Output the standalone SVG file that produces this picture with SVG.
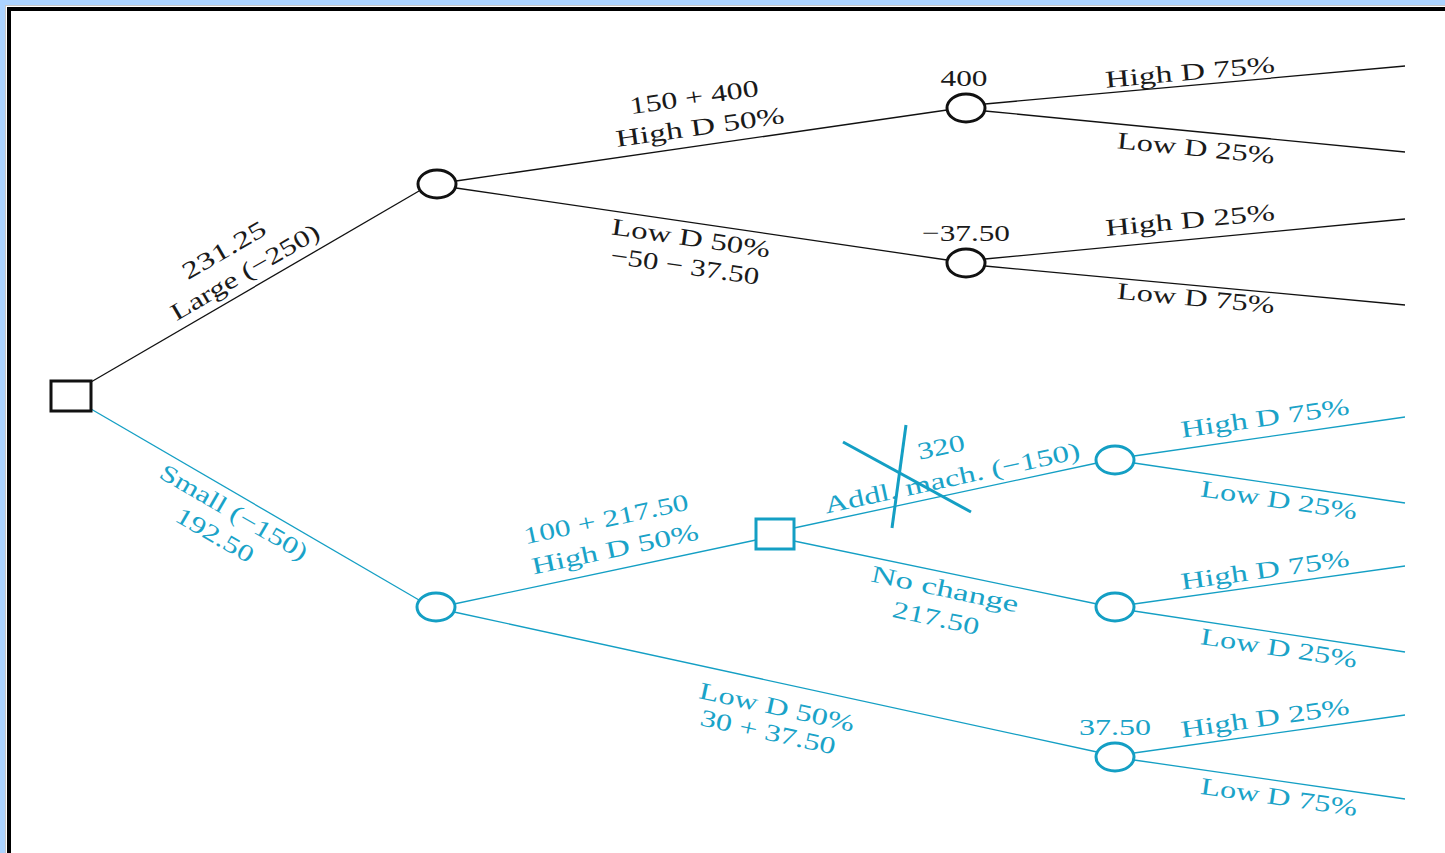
<svg xmlns="http://www.w3.org/2000/svg" width="1445" height="853" viewBox="0 0 1445 853">
<style>
.bg{fill:#acd3ff}
.k{stroke:#111;fill:none}
.t{stroke:#149fc4;fill:none}
.ln{stroke-width:1.3}
.nd{stroke-width:3;fill:#fff}
text{font-family:"Liberation Serif","Times New Roman",serif;font-size:24px;text-anchor:middle}
.kt{fill:#1a1a1a}
.tt{fill:#1aa3c8}
</style>
<rect class="bg" x="0" y="0" width="1445" height="853"/>
<rect x="5.5" y="5.5" width="1460" height="870" fill="#fff" stroke="#c8c8c8" stroke-width="1"/>
<rect x="9" y="9" width="1460" height="870" fill="none" stroke="#000" stroke-width="4"/>
<g id="connectors">
<g class="k ln">
<line x1="91" y1="382" x2="419" y2="191"/>
<line x1="456" y1="181" x2="947" y2="110"/>
<line x1="456" y1="188" x2="947" y2="260"/>
<line x1="985" y1="104" x2="1405" y2="66"/>
<line x1="985" y1="111" x2="1405" y2="152"/>
<line x1="985" y1="259" x2="1405" y2="219"/>
<line x1="985" y1="266" x2="1405" y2="305"/>
</g>
<g class="t ln">
<line x1="91" y1="409" x2="419" y2="600"/>
<line x1="454" y1="604" x2="756" y2="540"/>
<line x1="454" y1="612" x2="1097" y2="752"/>
<line x1="794" y1="528" x2="1097" y2="463"/>
<line x1="794" y1="541" x2="1097" y2="604"/>
<line x1="1134" y1="456" x2="1405" y2="417"/>
<line x1="1134" y1="463" x2="1405" y2="503"/>
<line x1="1134" y1="604" x2="1405" y2="566"/>
<line x1="1134" y1="611" x2="1405" y2="652"/>
<line x1="1134" y1="753" x2="1405" y2="715"/>
<line x1="1134" y1="760" x2="1405" y2="799"/>
</g>
</g>
<g id="root"><rect class="k nd" x="51" y="381" width="40" height="30"/></g>
<g id="nA"><ellipse class="k nd" cx="437" cy="184" rx="19" ry="14"/></g>
<g id="nB"><ellipse class="k nd" cx="966" cy="108" rx="19" ry="14"/>
<text class="kt" x="964" y="86" textLength="47" lengthAdjust="spacingAndGlyphs">400</text></g>
<g id="nC"><ellipse class="k nd" cx="966" cy="263" rx="19" ry="14"/>
<text class="kt" x="966" y="241" textLength="88" lengthAdjust="spacingAndGlyphs">−37.50</text></g>
<g id="nD"><ellipse class="t nd" cx="436" cy="607" rx="19" ry="14"/></g>
<g id="nE"><rect class="t nd" x="756" y="519" width="38" height="30"/></g>
<g id="nF"><ellipse class="t nd" cx="1115" cy="460" rx="19" ry="14"/></g>
<g id="nG"><ellipse class="t nd" cx="1115" cy="607" rx="19" ry="14"/></g>
<g id="nH"><ellipse class="t nd" cx="1115" cy="757" rx="19" ry="14"/>
<text class="tt" x="1115" y="735" textLength="72" lengthAdjust="spacingAndGlyphs">37.50</text></g>
<g id="labels-black" class="kt">
<text class="kt" transform="translate(224,250) rotate(-30.2)" y="8" textLength="93" lengthAdjust="spacingAndGlyphs">231.25</text>
<text class="kt" transform="translate(245,272) rotate(-30.2)" y="8" textLength="168" lengthAdjust="spacingAndGlyphs">Large (−250)</text>
<text class="kt" transform="translate(694,97) rotate(-8.2)" y="8" textLength="130" lengthAdjust="spacingAndGlyphs">150 + 400</text>
<text class="kt" transform="translate(700,127) rotate(-8.2)" y="8" textLength="170" lengthAdjust="spacingAndGlyphs">High D 50%</text>
<text class="kt" transform="translate(691,238) rotate(8.3)" y="8" textLength="160" lengthAdjust="spacingAndGlyphs">Low D 50%</text>
<text class="kt" transform="translate(685,266) rotate(8.3)" y="8" textLength="150" lengthAdjust="spacingAndGlyphs">−50 − 37.50</text>
<text class="kt" transform="translate(1190,72) rotate(-5.2)" y="8" textLength="170" lengthAdjust="spacingAndGlyphs">High D 75%</text>
<text class="kt" transform="translate(1196,148) rotate(5.6)" y="8" textLength="158" lengthAdjust="spacingAndGlyphs">Low D 25%</text>
<text class="kt" transform="translate(1190,220) rotate(-5.4)" y="8" textLength="170" lengthAdjust="spacingAndGlyphs">High D 25%</text>
<text class="kt" transform="translate(1196,298) rotate(5.3)" y="8" textLength="158" lengthAdjust="spacingAndGlyphs">Low D 75%</text>
</g>
<g id="labels-teal">
<text class="tt" transform="translate(234,512) rotate(30.2)" y="8" textLength="167" lengthAdjust="spacingAndGlyphs">Small (−150)</text>
<text class="tt" transform="translate(215,535) rotate(30.2)" y="8" textLength="86" lengthAdjust="spacingAndGlyphs">192.50</text>
<text class="tt" transform="translate(606,519) rotate(-12)" y="8" textLength="168" lengthAdjust="spacingAndGlyphs">100 + 217.50</text>
<text class="tt" transform="translate(615,549) rotate(-12)" y="8" textLength="170" lengthAdjust="spacingAndGlyphs">High D 50%</text>
<text class="tt" transform="translate(941,447) rotate(-12)" y="8" textLength="48" lengthAdjust="spacingAndGlyphs">320</text>
<text class="tt" transform="translate(952,478) rotate(-12.3)" y="8" textLength="261" lengthAdjust="spacingAndGlyphs">Addl. mach. (−150)</text>
<text class="tt" transform="translate(945,589) rotate(12)" y="8" textLength="150" lengthAdjust="spacingAndGlyphs">No change</text>
<text class="tt" transform="translate(936,618) rotate(12)" y="8" textLength="88" lengthAdjust="spacingAndGlyphs">217.50</text>
<text class="tt" transform="translate(777,707) rotate(12.3)" y="8" textLength="158" lengthAdjust="spacingAndGlyphs">Low D 50%</text>
<text class="tt" transform="translate(768,732) rotate(12.3)" y="8" textLength="138" lengthAdjust="spacingAndGlyphs">30 + 37.50</text>
<text class="tt" transform="translate(1265,418) rotate(-8)" y="8" textLength="170" lengthAdjust="spacingAndGlyphs">High D 75%</text>
<text class="tt" transform="translate(1279,500) rotate(8.4)" y="8" textLength="158" lengthAdjust="spacingAndGlyphs">Low D 25%</text>
<text class="tt" transform="translate(1265,570) rotate(-8)" y="8" textLength="170" lengthAdjust="spacingAndGlyphs">High D 75%</text>
<text class="tt" transform="translate(1279,648) rotate(8.6)" y="8" textLength="158" lengthAdjust="spacingAndGlyphs">Low D 25%</text>
<text class="tt" transform="translate(1265,718) rotate(-8)" y="8" textLength="170" lengthAdjust="spacingAndGlyphs">High D 25%</text>
<text class="tt" transform="translate(1279,797) rotate(8.2)" y="8" textLength="158" lengthAdjust="spacingAndGlyphs">Low D 75%</text>
</g>
<g id="cross" stroke="#149fc4" stroke-width="3" fill="none">
<line x1="843" y1="442" x2="971" y2="512"/>
<line x1="906" y1="425" x2="892" y2="528"/>
</g>
</svg>
